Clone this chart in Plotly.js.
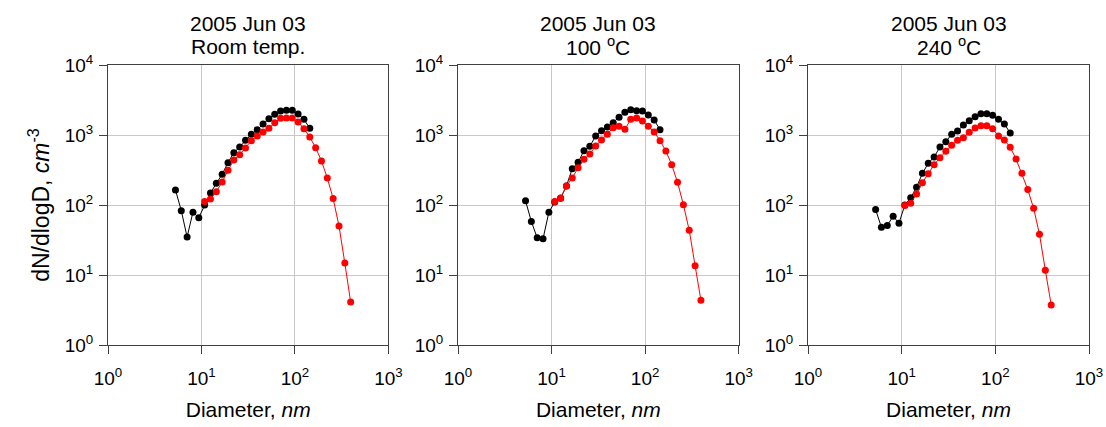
<!DOCTYPE html>
<html>
<head>
<meta charset="utf-8">
<script src="https://cdn.plot.ly/plotly-3.0.1.min.js"></script>
<style>html,body{margin:0;padding:0;background:#fff;}#chart{width:1106px;height:427px;}</style>
</head>
<body>
<div id="chart"></div>
<script>
// Diameter bins (nm)
const diameters = [5.27, 6.08, 7.02, 8.11, 9.36, 10.81, 12.49, 14.42, 16.65, 19.22,
  22.20, 25.64, 29.61, 34.19, 39.48, 45.59, 52.65, 60.80, 70.21, 81.07,
  93.63, 108.1, 124.9, 144.2, 166.5, 192.3, 222.0, 256.4, 296.1, 341.9, 394.8];

const diamBlack = diameters.slice(0, 24);
const diamRed = diameters.slice(5);

const panelTitles1 = ['2005 Jun 03', '2005 Jun 03', '2005 Jun 03'];
const panelTitles2 = ['Room temp.', '100 <sup>o</sup>C', '240 <sup>o</sup>C'];

// Room temperature
const roomBlack = [164, 83, 35, 79, 66, 100, 148, 204, 274, 403, 559, 674, 840, 1023, 1191, 1436, 1711, 1973, 2203, 2250, 2250, 1995, 1674, 1245];
const roomRed = [112, 122, 155, 213, 313, 439, 524, 652, 830, 968, 1104, 1245, 1500, 1730, 1750, 1750, 1534, 1231, 936, 659, 425, 243, 124, 50, 14.8, 4.1];

// 100 C
const t100Black = [115, 58, 34, 33, 79, 110, 125, 187, 330, 407, 597, 689, 968, 1153, 1300, 1500, 1786, 2108, 2300, 2228, 2203, 1930, 1638, 1191];
const t100Red = [112, 126, 187, 243, 341, 449, 535, 697, 848, 1023, 1273, 1330, 1205, 1674, 1750, 1585, 1330, 1104, 830, 591, 377, 211, 101, 43.5, 13.6, 4.35];

// 240 C
const t240Black = [86, 48, 51, 69, 55, 100, 127, 179, 283, 394, 485, 674, 803, 1023, 1140, 1390, 1603, 1828, 2018, 2018, 1910, 1674, 1436, 1069];
const t240Red = [98, 106, 144, 208, 280, 377, 475, 585, 712, 840, 916, 1092, 1259, 1359, 1359, 1231, 968, 848, 667, 454, 283, 166, 89.6, 38.1, 11.7, 3.73];

const xTickVals = [1, 10, 100, 1000];
const xTickText = ['10<sup>0</sup>', '10<sup>1</sup>', '10<sup>2</sup>', '10<sup>3</sup>'];
const yTickVals = [1, 10, 100, 1000, 10000];
const yTickText = ['10<sup>0</sup>', '10<sup>1</sup>', '10<sup>2</sup>', '10<sup>3</sup>', '10<sup>4</sup>'];

const blackSeries = [roomBlack, t100Black, t240Black];
const redSeries = [roomRed, t100Red, t240Red];

const FONT = 'Arial, "Liberation Sans", sans-serif';
const traces = [];
for (let i = 0; i < 3; i++) {
  const xa = i === 0 ? 'x' : 'x' + (i + 1);
  const ya = i === 0 ? 'y' : 'y' + (i + 1);
  traces.push({x: diamBlack, y: blackSeries[i], xaxis: xa, yaxis: ya, type: 'scatter', mode: 'lines+markers',
    line: {color: '#000000', width: 1}, marker: {color: '#000000', size: 7}, showlegend: false, cliponaxis: false});
  traces.push({x: diamRed, y: redSeries[i], xaxis: xa, yaxis: ya, type: 'scatter', mode: 'lines+markers',
    line: {color: '#ff0000', width: 1}, marker: {color: '#ff0000', size: 7}, showlegend: false, cliponaxis: false});
}

const plotW = 1106 - 108 - 17;
const domains = [[0, (388.7 - 108.3) / plotW], [(458.3 - 108.3) / plotW, (739 - 108.3) / plotW], [(808.3 - 108.3) / plotW, 1]];

const layout = {
  width: 1106, height: 427,
  margin: {l: 108, r: 17, t: 65, b: 82},
  paper_bgcolor: '#ffffff', plot_bgcolor: '#ffffff',
  font: {family: FONT, color: '#000000', size: 19},
  showlegend: false,
  annotations: []
};

for (let i = 0; i < 3; i++) {
  const sfx = i === 0 ? '' : String(i + 1);
  layout['xaxis' + sfx] = {
    type: 'log', range: [0, 3], domain: domains[i], anchor: 'y' + sfx,
    tickvals: xTickVals, ticktext: xTickText, ticks: 'outside', ticklen: 8, tickcolor: '#404040',
    ticklabelstandoff: 8,
    showline: true, linecolor: '#404040', linewidth: 1, mirror: true,
    showgrid: true, gridcolor: '#c8c8c8', gridwidth: 1, zeroline: false,
    tickfont: {family: FONT, size: 19, color: '#000'},
    title: {text: 'Diameter, <i>nm</i>', font: {family: FONT, size: 21, color: '#000'}, standoff: 14}
  };
  layout['yaxis' + sfx] = {
    type: 'log', range: [0, 4], domain: [0, 1], anchor: 'x' + sfx,
    tickvals: yTickVals, ticktext: yTickText, ticks: 'outside', ticklen: 8, tickcolor: '#404040',
    ticklabelstandoff: 2,
    showline: true, linecolor: '#404040', linewidth: 1, mirror: true,
    showgrid: true, gridcolor: '#c8c8c8', gridwidth: 1, zeroline: false,
    tickfont: {family: FONT, size: 19, color: '#000'}
  };
  const cx = (domains[i][0] + domains[i][1]) / 2;
  layout.annotations.push({xref: 'paper', yref: 'paper', x: cx, y: 1, xanchor: 'center', yanchor: 'middle',
    yshift: 42, text: panelTitles1[i], showarrow: false, font: {family: FONT, size: 21, color: '#000'}});
  layout.annotations.push({xref: 'paper', yref: 'paper', x: cx, y: 1, xanchor: 'center', yanchor: 'middle',
    yshift: 19, text: panelTitles2[i], showarrow: false, font: {family: FONT, size: 21, color: '#000'}});
}
layout.yaxis.title = {text: 'dN/dlogD, <i>cm</i><sup>-3</sup>', font: {family: FONT, size: 23, color: '#000'}, standoff: 8};

Plotly.newPlot('chart', traces, layout, {displayModeBar: false, staticPlot: true});
</script>
</body>
</html>
